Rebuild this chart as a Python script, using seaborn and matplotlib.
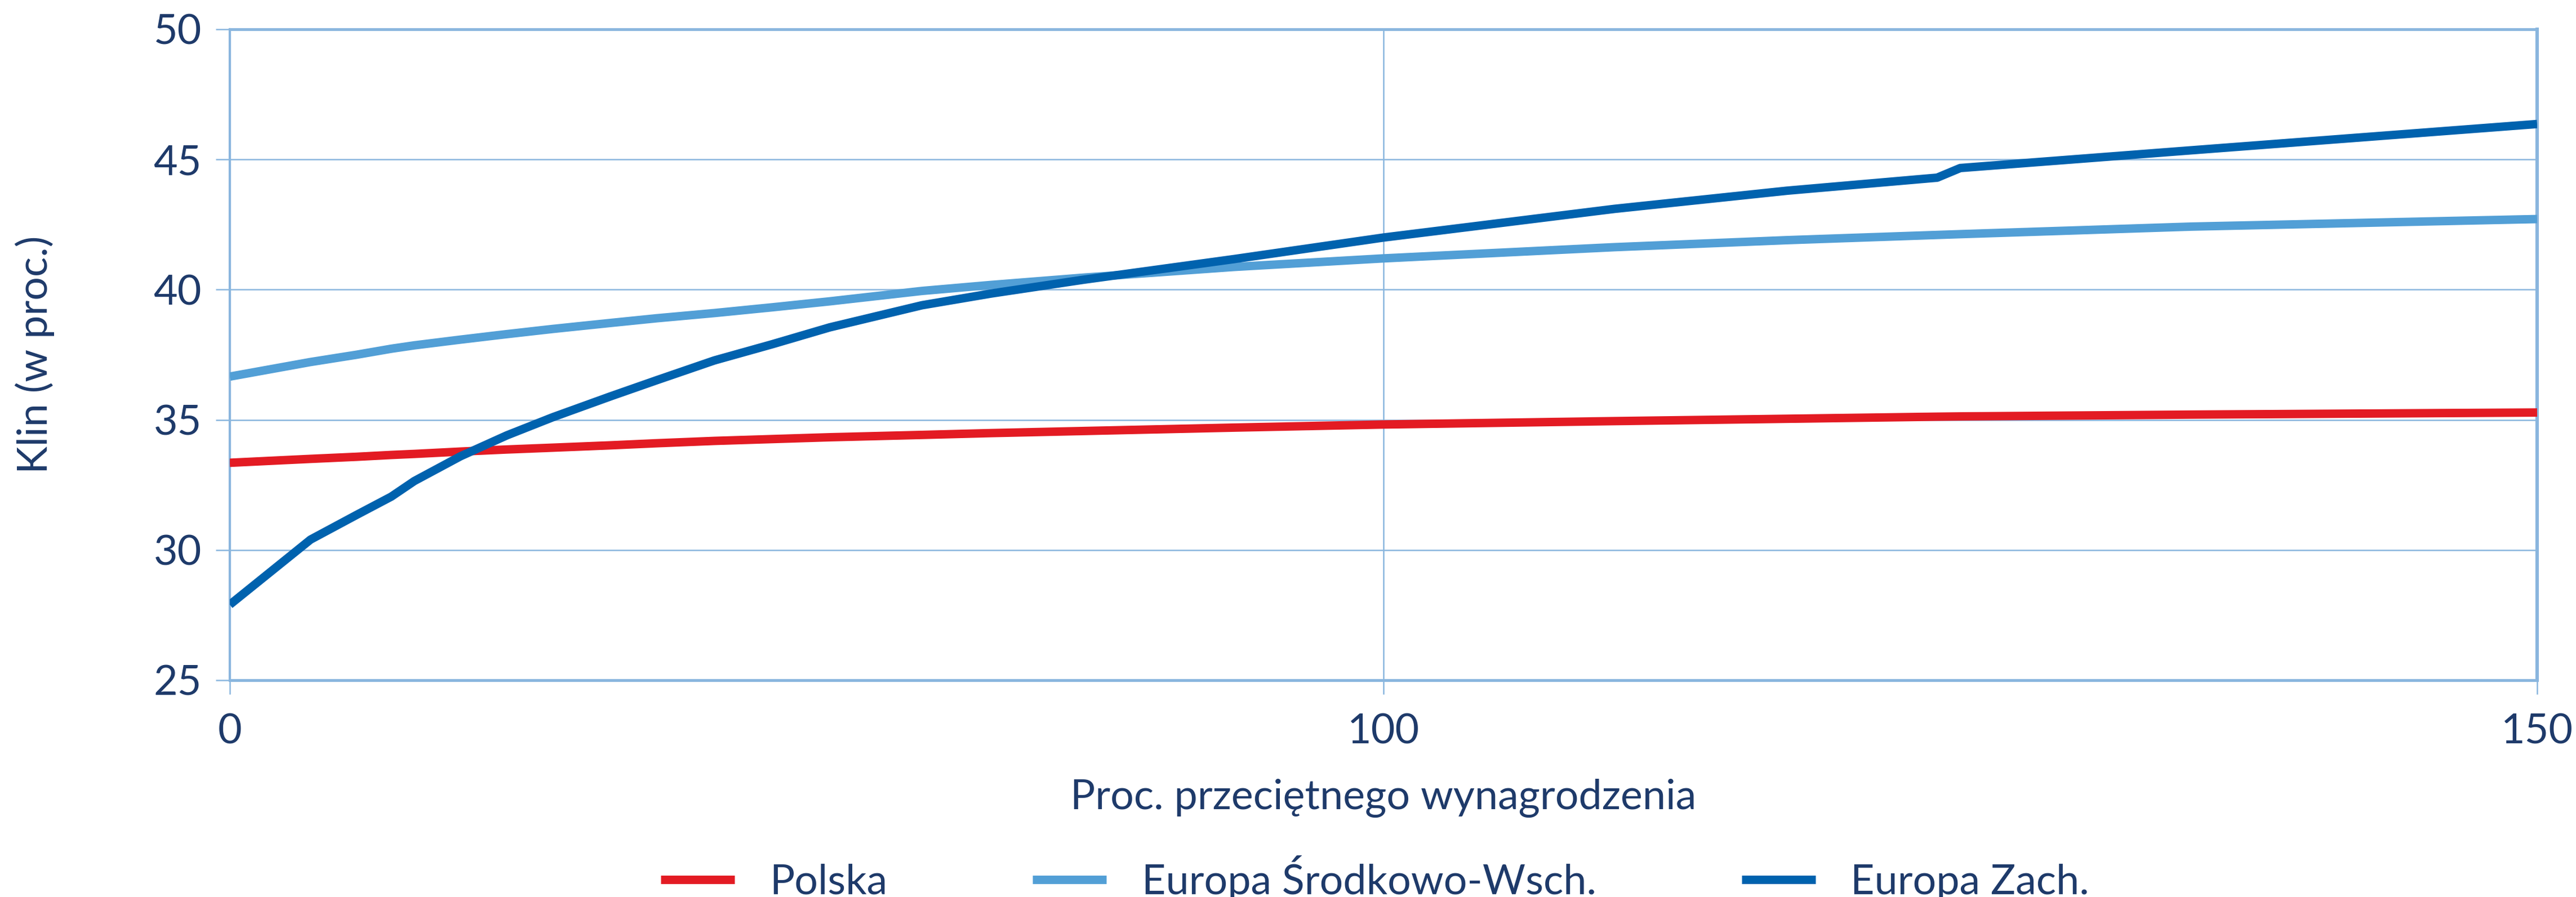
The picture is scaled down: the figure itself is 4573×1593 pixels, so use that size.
import pandas as pd
import matplotlib
matplotlib.use("Agg")
import matplotlib.pyplot as plt
import seaborn as sns

# Dane (klin podatkowy, w proc.)
wynagrodzenie = [50, 53.5, 55.5, 57, 58, 60, 62, 64, 66.5, 68.5, 71, 73.5, 76, 80, 83, 87,
                 93.5, 100, 110, 117.5, 124, 125, 135, 150]
polska = [33.35, 33.5, 33.58, 33.65, 33.69, 33.78, 33.86, 33.93, 34.02, 34.1, 34.19, 34.26,
          34.33, 34.42, 34.49, 34.57, 34.7, 34.82, 34.95, 35.04, 35.12, 35.13, 35.2, 35.28]
europa_sw = [36.66, 37.22, 37.5, 37.73, 37.86, 38.08, 38.29, 38.49, 38.72, 38.9, 39.1, 39.32,
             39.55, 39.95, 40.18, 40.46, 40.87, 41.2, 41.63, 41.9, 42.1, 42.13, 42.42, 42.71]
europa_zach = [27.9, 30.4, 31.35, 32.05, 32.65, 33.6, 34.4, 35.1, 35.9, 36.52, 37.28, 37.9,
               38.55, 39.4, 39.85, 40.38, 41.17, 42.0, 43.1, 43.8, 44.3, 44.67, 45.35, 46.36]

serie = ["Polska", "Europa Środkowo-Wsch.", "Europa Zach."]
kolory = ["#E31B23", "#529FD6", "#0062AE"]
x_ticks = [50, 100, 150]
x_tick_labels = ["0", "100", "150"]
y_ticks = [25, 30, 35, 40, 45, 50]

df = pd.concat([
    pd.DataFrame({"x": wynagrodzenie, "y": polska, "seria": serie[0]}),
    pd.DataFrame({"x": wynagrodzenie, "y": europa_sw, "seria": serie[1]}),
    pd.DataFrame({"x": wynagrodzenie, "y": europa_zach, "seria": serie[2]}),
])

sns.set_theme(style="white")
plt.rcParams['font.family'] = ['Lato', 'DejaVu Sans']

tekst = "#1E3A6A"
siatka = "#8AB6DE"
fs = 26.5

fig = plt.figure(figsize=(22.865, 7.965), dpi=200)
ax = fig.add_axes([0.0892, 0.2417, 0.8957, 0.7257])

sns.lineplot(data=df, x="x", y="y", hue="seria", hue_order=serie,
             palette=kolory, linewidth=5.4, ax=ax, sort=False,
             solid_capstyle="butt", zorder=3)

ax.set_xlim(50, 150)
ax.set_ylim(25, 50)
ax.set_xticks(x_ticks)
ax.set_xticklabels(x_tick_labels)
ax.set_yticks(y_ticks)

ax.grid(True, color=siatka, linewidth=0.9)
ax.set_axisbelow(True)
for s, w in zip(["top", "bottom", "left", "right"], [1.8, 1.8, 1.5, 2.2]):
    ax.spines[s].set_visible(True)
    ax.spines[s].set_color(siatka)
    ax.spines[s].set_linewidth(w)

ax.tick_params(axis="both", which="both", direction="out", length=9, width=0.9,
               color=siatka, labelcolor=tekst, labelsize=fs)
ax.tick_params(axis="x", pad=12, bottom=True)
ax.tick_params(axis="y", pad=9, left=True)

ax.set_xlabel("Proc. przeciętnego wynagrodzenia", fontsize=fs, color=tekst, labelpad=18)
ax.set_ylabel("Klin (w proc.)", fontsize=fs, color=tekst)
ax.yaxis.set_label_coords(-0.076, 0.5)

handles, labels = ax.get_legend_handles_labels()
ax.get_legend().remove()
leg = fig.legend(handles, labels, loc="center", bbox_to_anchor=(0.5338, 0.021),
                 ncol=3, frameon=False, fontsize=fs, handlelength=1.78,
                 handletextpad=0.85, columnspacing=3.5)
for line in leg.get_lines():
    line.set_linewidth(5.4)
    line.set_solid_capstyle("butt")
for t in leg.get_texts():
    t.set_color(tekst)

fig.savefig("out.png", dpi=200)
